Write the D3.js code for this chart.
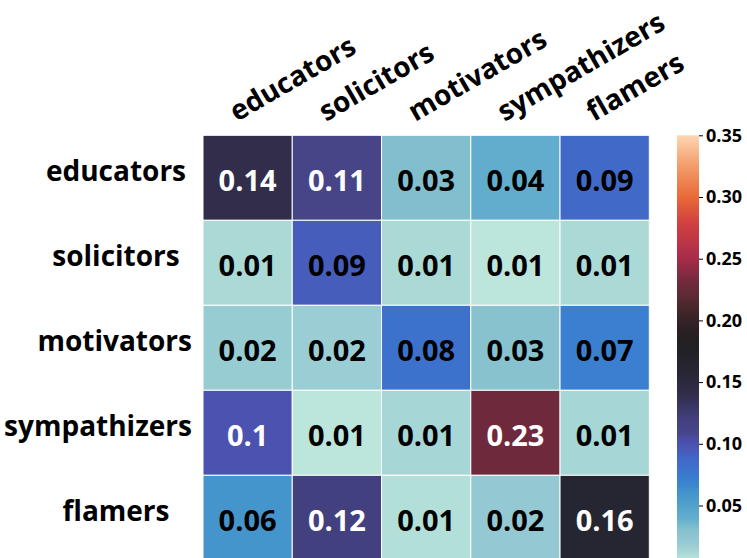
<!DOCTYPE html>
<html>
<head>
<meta charset="utf-8">
<script src="https://cdn.jsdelivr.net/npm/d3@7"></script>
<style>
  html, body { margin: 0; padding: 0; background: #fff; }
  svg { display: block; font-family: "Open Sans", "DejaVu Sans", sans-serif; font-weight: 700; }
</style>
</head>
<body>
<svg id="chart" width="747" height="558"></svg>
<script>
// ---- data ----
const rowLabels = ["educators", "solicitors", "motivators", "sympathizers", "flamers"];
const colLabels = ["educators", "solicitors", "motivators", "sympathizers", "flamers"];
const educators    = [0.140, 0.110, 0.031, 0.040, 0.088];
const solicitors   = [0.011, 0.093, 0.011, 0.006, 0.011];
const motivators   = [0.019, 0.018, 0.080, 0.029, 0.070];
const sympathizers = [0.100, 0.006, 0.013, 0.230, 0.013];
const flamers      = [0.060, 0.120, 0.009, 0.021, 0.160];
const colorbarTicks = [0.05, 0.10, 0.15, 0.20, 0.25, 0.30, 0.35];
const vmin = 0.0056, vmax = 0.35;

// icefire-like colormap (value stops -> colours)
const cmapValues = [0.0056, 0.012, 0.02, 0.03, 0.04, 0.06, 0.07, 0.08, 0.088, 0.093, 0.10, 0.11, 0.12, 0.14, 0.16, 0.18, 0.192, 0.206, 0.219, 0.23, 0.251, 0.279, 0.30, 0.327, 0.35];
const cmapColors = ["#bde7db", "#a8d8d5", "#96cad3", "#86c1ce", "#62adcd", "#4495cc", "#3a7fd0", "#3d72cc", "#4169c7", "#465dbc", "#4b52b0", "#474487", "#42407e", "#312d4b", "#262532", "#222022", "#2a2024", "#3e2528", "#5c2a34", "#6e2a3c", "#a92c4a", "#d24040", "#e86a38", "#f5a070", "#fdd6b2"];

const matrix = [educators, solicitors, motivators, sympathizers, flamers];
const cells = [];
matrix.forEach((row, i) => row.forEach((v, j) => cells.push({ r: rowLabels[i], c: colLabels[j], v })));

const svg = d3.select("#chart");
const color = d3.scaleLinear().domain(cmapValues).range(cmapColors).interpolate(d3.interpolateRgb).clamp(true);

const x = d3.scaleBand().domain(colLabels).range([203, 649.3]);
const y = d3.scaleBand().domain(rowLabels).range([135.3, 560.3]);

// cells
svg.append("g").selectAll("rect").data(cells).join("rect")
  .attr("x", d => x(d.c))
  .attr("y", d => y(d.r))
  .attr("width", x.bandwidth())
  .attr("height", y.bandwidth())
  .attr("fill", d => color(d.v))
  .attr("stroke", "#ffffff")
  .attr("stroke-width", 1);

// annotations
const fmt = v => String(+v.toFixed(2));
svg.append("g").selectAll("text").data(cells).join("text")
  .attr("x", d => x(d.c) + x.bandwidth() / 2)
  .attr("y", d => y(d.r) + y.bandwidth() / 2 + 13)
  .attr("text-anchor", "middle")
  .attr("font-size", 29)
  .attr("fill", d => (+d.v.toFixed(2) >= 0.1 ? "#ffffff" : "#000000"))
  .text(d => fmt(d.v));

// y tick labels (centred, kept clear of the heatmap)
const yl = svg.append("g").selectAll("text").data(rowLabels).join("text")
  .attr("y", d => y(d) + y.bandwidth() / 2 + 3)
  .attr("text-anchor", "middle")
  .attr("font-size", 28)
  .attr("fill", "#000")
  .text(d => d);
yl.each(function () {
  const w = this.getComputedTextLength();
  d3.select(this).attr("x", Math.min(116, 192 - w / 2));
});

// x tick labels on top, rotated
svg.append("g").selectAll("text").data(colLabels).join("text")
  .attr("transform", d => `translate(${x(d) + x.bandwidth() / 2 - 11},122) rotate(-30)`)
  .attr("text-anchor", "start")
  .attr("font-size", 28)
  .attr("fill", "#000")
  .text(d => d);

// colorbar
const cbX = 677, cbW = 22;
const cy = d3.scaleLinear().domain([vmin, vmax]).range([560.3, 135.3]);
const defs = svg.append("defs");
const grad = defs.append("linearGradient").attr("id", "cbgrad")
  .attr("x1", 0).attr("y1", 1).attr("x2", 0).attr("y2", 0);
d3.range(0, 101).forEach(k => {
  const t = k / 100;
  grad.append("stop").attr("offset", t).attr("stop-color", color(vmin + t * (vmax - vmin)));
});
svg.append("rect")
  .attr("x", cbX).attr("y", cy(vmax))
  .attr("width", cbW).attr("height", cy(vmin) - cy(vmax))
  .attr("fill", "url(#cbgrad)");

const cbAxis = d3.axisRight(cy).tickValues(colorbarTicks).tickFormat(d3.format(".2f")).tickSize(4).tickPadding(3);
const cbg = svg.append("g").attr("transform", `translate(${cbX + cbW},0)`).call(cbAxis);
cbg.select(".domain").remove();
cbg.selectAll("line").attr("stroke", "#000").attr("stroke-width", 1);
cbg.selectAll("text")
  .attr("font-size", 18)
  .attr("font-family", "'Open Sans', 'DejaVu Sans', sans-serif")
  .attr("font-weight", 700)
  .attr("fill", "#000");
</script>
</body>
</html>
